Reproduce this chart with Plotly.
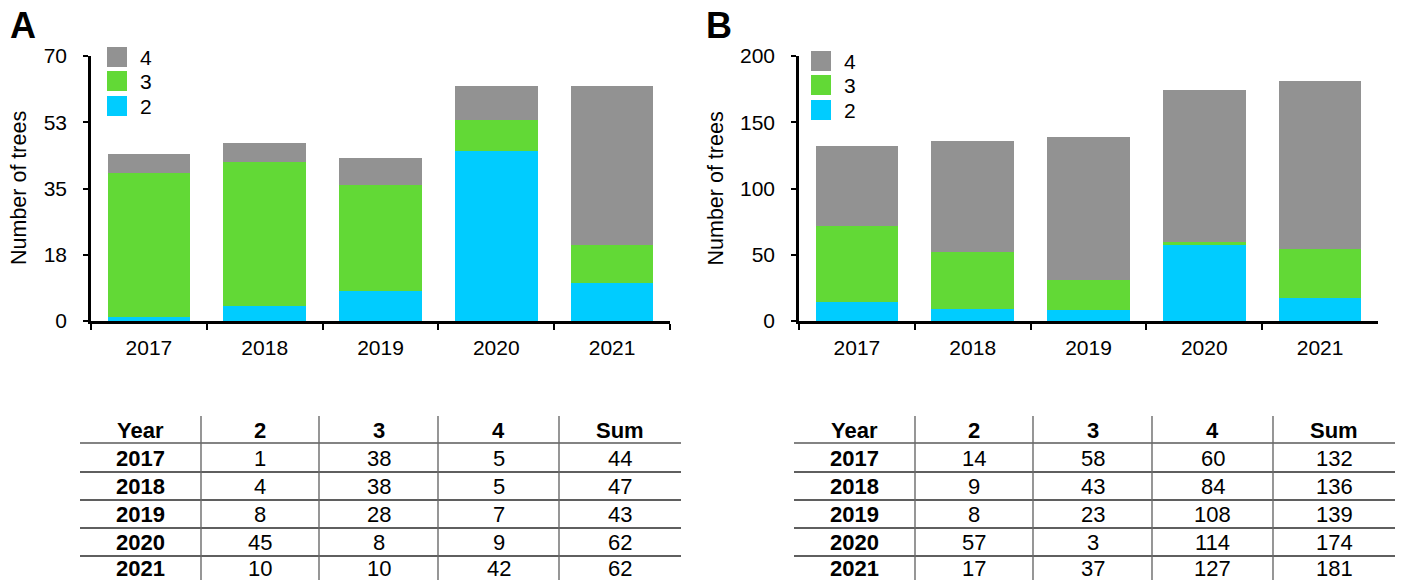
import plotly.graph_objects as go

# ---- data ----
years = ["2017", "2018", "2019", "2020", "2021"]
classes = ["2", "3", "4"]

a_class2 = [1, 4, 8, 45, 10]
a_class3 = [38, 38, 28, 8, 10]
a_class4 = [5, 5, 7, 9, 42]

b_class2 = [14, 9, 8, 57, 17]
b_class3 = [58, 43, 23, 3, 37]
b_class4 = [60, 84, 108, 114, 127]

a_ticks = [0, 17.5, 35, 52.5, 70]
a_tick_labels = ["0", "18", "35", "53", "70"]
b_ticks = [0, 50, 100, 150, 200]
b_tick_labels = ["0", "50", "100", "150", "200"]

colors = {"2": "#00CCFF", "3": "#62D936", "4": "#929292"}

W, H = 1408, 580
FONT = "Liberation Sans, Arial, Helvetica, sans-serif"


def fx(x):
    return x / W


def fy(y):
    return 1 - y / H


panels = [
    dict(letter="A", series=[a_class2, a_class3, a_class4], ticks=a_ticks,
         tick_labels=a_tick_labels, x0=91, x1=670, letter_xy=(23, 26),
         ytitle_x=19.5, legend_x=107, legend_tops=[47, 71, 96],
         cols=[80, 201, 319, 438, 559, 681]),
    dict(letter="B", series=[b_class2, b_class3, b_class4], ticks=b_ticks,
         tick_labels=b_tick_labels, x0=799, x1=1378, letter_xy=(719, 26),
         ytitle_x=716, legend_x=811, legend_tops=[51, 75, 100],
         cols=[794, 915, 1033, 1152, 1273, 1395]),
]

PLOT_TOP, PLOT_BOTTOM = 56, 321
ROW_LINES = [443, 472, 500, 528, 556]
TABLE_TOP = 416
ROW_CENTERS = [430, 458, 486, 514, 542, 568]

fig = go.Figure()
shapes, annotations = [], []
layout_axes = {}

for i, p in enumerate(panels):
    xa = "x" if i == 0 else "x2"
    ya = "y" if i == 0 else "y2"
    for name, vals in zip(classes, p["series"]):
        fig.add_trace(go.Bar(
            x=years, y=vals, name=name, xaxis=xa, yaxis=ya,
            marker=dict(color=colors[name], line=dict(width=0)),
            showlegend=False, hoverinfo="x+y+name",
        ))

    suffix = "" if i == 0 else "2"
    layout_axes["xaxis" + suffix] = dict(
        domain=[fx(p["x0"]), fx(p["x1"])], anchor=ya, type="category",
        range=[-0.5, 4.5], tickson="boundaries", ticks="outside",
        ticklen=6, tickwidth=2, tickcolor="black",
        showline=True, linecolor="black", linewidth=2.5,
        showgrid=False, zeroline=False, fixedrange=True, automargin=False,
        tickfont=dict(size=21, color="black", family=FONT),
        ticklabelstandoff=6,
    )
    layout_axes["yaxis" + suffix] = dict(
        domain=[fy(PLOT_BOTTOM), fy(PLOT_TOP)], anchor=xa,
        range=[0, p["ticks"][-1]], tickmode="array",
        tickvals=p["ticks"], ticktext=p["tick_labels"],
        ticks="outside", ticklen=5, tickwidth=2, tickcolor="black",
        showline=True, linecolor="black", linewidth=2.5,
        showgrid=False, zeroline=False, fixedrange=True, automargin=False,
        tickfont=dict(size=21, color="black", family=FONT),
        ticklabelstandoff=12,
    )

    # panel letter
    lx, ly = p["letter_xy"]
    annotations.append(dict(
        text="<b>%s</b>" % p["letter"], x=fx(lx), y=fy(ly), xref="paper",
        yref="paper", xanchor="center", yanchor="middle", showarrow=False,
        font=dict(size=36, color="black", family=FONT)))

    # y-axis title
    annotations.append(dict(
        text="Number of trees", x=fx(p["ytitle_x"]),
        y=fy((PLOT_TOP + PLOT_BOTTOM) / 2), xref="paper", yref="paper",
        xanchor="center", yanchor="middle", textangle=-90, showarrow=False,
        font=dict(size=21.5, color="black", family=FONT)))

    # legend: 4, 3, 2 from top to bottom
    for name, top in zip(["4", "3", "2"], p["legend_tops"]):
        shapes.append(dict(
            type="rect", xref="paper", yref="paper",
            x0=fx(p["legend_x"]), x1=fx(p["legend_x"] + 20),
            y0=fy(top + 20), y1=fy(top), fillcolor=colors[name],
            line=dict(width=0)))
        annotations.append(dict(
            text=name, x=fx(p["legend_x"] + 31), y=fy(top + 10),
            xref="paper", yref="paper", xanchor="left", yanchor="middle",
            showarrow=False, font=dict(size=21, color="black", family=FONT)))

    # table below the chart
    cols = p["cols"]
    centers = [(cols[k] + cols[k + 1]) / 2 for k in range(5)]
    for k, yl in enumerate(ROW_LINES):
        shapes.append(dict(
            type="line", xref="paper", yref="paper", x0=fx(cols[0]),
            x1=fx(cols[-1]), y0=fy(yl), y1=fy(yl),
            line=dict(color="#5a5a5a" if k == 0 else "#2a2a2a", width=1.6)))
    for xv in cols[1:-1]:
        shapes.append(dict(
            type="line", xref="paper", yref="paper", x0=fx(xv), x1=fx(xv),
            y0=fy(TABLE_TOP), y1=0,
            line=dict(color="#6a6a6a", width=1.4)))

    header = ["Year"] + classes + ["Sum"]
    rows = [header]
    c2, c3, c4 = p["series"]
    for yr, v2, v3, v4 in zip(years, c2, c3, c4):
        rows.append([yr, str(v2), str(v3), str(v4), str(v2 + v3 + v4)])
    for r, row in enumerate(rows):
        for c, txt in enumerate(row):
            bold = r == 0 or c == 0
            annotations.append(dict(
                text="<b>%s</b>" % txt if bold else txt,
                x=fx(centers[c]), y=fy(ROW_CENTERS[r]), xref="paper",
                yref="paper", xanchor="center", yanchor="middle",
                showarrow=False,
                font=dict(size=22, color="black", family=FONT)))

fig.update_layout(
    width=W, height=H, margin=dict(l=0, r=0, t=0, b=0, autoexpand=False),
    paper_bgcolor="white", plot_bgcolor="white",
    barmode="stack", bargap=0.286,
    font=dict(family=FONT, color="black"),
    shapes=shapes, annotations=annotations, showlegend=False,
    **layout_axes,
)

fig.write_html("out.html")
